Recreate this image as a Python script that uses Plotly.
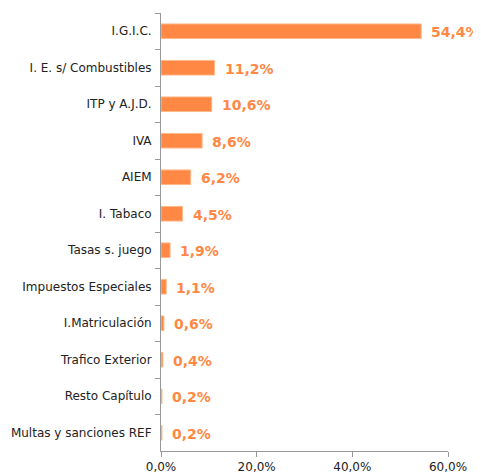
import plotly.graph_objects as go

categories = ["I.G.I.C.", "I. E. s/ Combustibles", "ITP y A.J.D.", "IVA", "AIEM",
              "I. Tabaco", "Tasas s. juego", "Impuestos Especiales", "I.Matriculación",
              "Trafico Exterior", "Resto Capítulo", "Multas y sanciones REF"]
values = [54.4, 11.2, 10.6, 8.6, 6.2, 4.5, 1.9, 1.1, 0.6, 0.4, 0.2, 0.2]
value_labels = ["54,4%", "11,2%", "10,6%", "8,6%", "6,2%", "4,5%", "1,9%", "1,1%",
                "0,6%", "0,4%", "0,2%", "0,2%"]
tick_vals = [0, 20, 40, 60]
tick_text = ["0,0%", "20,0%", "40,0%", "60,0%"]

bar_color = "#FF8844"
label_color = "#FF8844"

fig = go.Figure(go.Bar(
    x=values, y=categories, orientation="h",
    marker=dict(color=bar_color, line=dict(color="#FFB88A", width=1)),
    width=0.4, hoverinfo="skip", cliponaxis=False,
))

for c, v, t in zip(categories, values, value_labels):
    fig.add_annotation(x=v, y=c, text="<b>" + t + "</b>", showarrow=False,
                       xanchor="left", xshift=8, yshift=-1,
                       font=dict(family="DejaVu Sans", size=14, color=label_color))

# page body has an 8px default margin, so the figure is sized to fit inside the window
fig.update_layout(
    width=473, height=465,
    margin=dict(l=153, r=33, t=5, b=22, autoexpand=False),
    paper_bgcolor="white", plot_bgcolor="white",
    showlegend=False,
    font=dict(family="DejaVu Sans", size=12, color="#222222"),
    xaxis=dict(range=[0, 60], tickvals=tick_vals, ticktext=tick_text,
               showgrid=False, zeroline=False, showline=True, linecolor="#999999",
               linewidth=1, ticks="outside", ticklen=5, tickcolor="#999999",
               automargin=False,
               tickfont=dict(size=12, color="#222222")),
    yaxis=dict(autorange="reversed", showgrid=False, zeroline=False, showline=True,
               linecolor="#999999", linewidth=1, ticks="outside", ticklen=5,
               tickcolor="#999999", tickson="boundaries", ticklabelstandoff=6,
               automargin=False,
               tickfont=dict(size=12, color="#222222")),
)

fig.write_html("out.html")
